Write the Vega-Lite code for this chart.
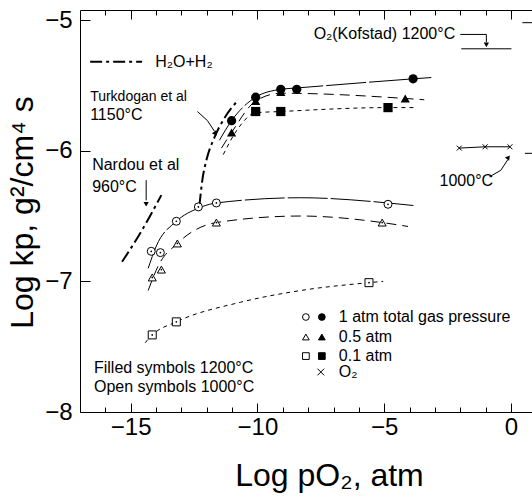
{
  "$schema": "https://vega.github.io/schema/vega-lite/v6.json",
  "width": 452,
  "height": 402,
  "autosize": "none",
  "padding": {"left": 80, "top": 10, "right": 0, "bottom": 89},
  "background": "white",
  "config": {
    "view": {"stroke": null},
    "font": "Liberation Sans",
    "axis": {"grid": false, "domainColor": "black", "tickColor": "black", "labelColor": "black", "titleColor": "black", "labelFont": "Liberation Sans", "titleFont": "Liberation Sans", "titleFontWeight": "normal", "domainWidth": 1, "tickWidth": 1}
  },
  "datasets": {
    "curves": [
      {"curve": "c1200_1", "i": 0, "x": -11.50, "y": -5.92},
      {"curve": "c1200_1", "i": 1, "x": -11.02, "y": -5.77},
      {"curve": "c1200_1", "i": 2, "x": -10.07, "y": -5.59},
      {"curve": "c1200_1", "i": 3, "x": -9.08, "y": -5.53},
      {"curve": "c1200_1", "i": 4, "x": -8.45, "y": -5.52},
      {"curve": "c1200_1", "i": 5, "x": -3.86, "y": -5.45},
      {"curve": "c1200_1", "i": 6, "x": -3.14, "y": -5.44},
      {"curve": "c1200_05", "i": 0, "x": -11.42, "y": -5.98},
      {"curve": "c1200_05", "i": 1, "x": -11.02, "y": -5.86},
      {"curve": "c1200_05", "i": 2, "x": -10.07, "y": -5.62},
      {"curve": "c1200_05", "i": 3, "x": -9.08, "y": -5.56},
      {"curve": "c1200_05", "i": 4, "x": -4.17, "y": -5.60},
      {"curve": "c1200_05", "i": 5, "x": -3.42, "y": -5.61},
      {"curve": "c1200_01", "i": 0, "x": -11.35, "y": -6.03},
      {"curve": "c1200_01", "i": 1, "x": -10.80, "y": -5.84},
      {"curve": "c1200_01", "i": 2, "x": -10.07, "y": -5.71},
      {"curve": "c1200_01", "i": 3, "x": -9.08, "y": -5.70},
      {"curve": "c1200_01", "i": 4, "x": -4.85, "y": -5.67},
      {"curve": "c1200_01", "i": 5, "x": -3.82, "y": -5.67},
      {"curve": "c1000_1", "i": 0, "x": -14.31, "y": -6.90},
      {"curve": "c1000_1", "i": 1, "x": -13.99, "y": -6.73},
      {"curve": "c1000_1", "i": 2, "x": -13.20, "y": -6.54},
      {"curve": "c1000_1", "i": 3, "x": -12.33, "y": -6.44},
      {"curve": "c1000_1", "i": 4, "x": -11.62, "y": -6.40},
      {"curve": "c1000_1", "i": 5, "x": -8.29, "y": -6.36},
      {"curve": "c1000_1", "i": 6, "x": -4.85, "y": -6.40},
      {"curve": "c1000_1", "i": 7, "x": -3.82, "y": -6.42},
      {"curve": "c1000_05", "i": 0, "x": -14.31, "y": -7.07},
      {"curve": "c1000_05", "i": 1, "x": -13.91, "y": -6.88},
      {"curve": "c1000_05", "i": 2, "x": -13.16, "y": -6.71},
      {"curve": "c1000_05", "i": 3, "x": -11.62, "y": -6.55},
      {"curve": "c1000_05", "i": 4, "x": -8.29, "y": -6.50},
      {"curve": "c1000_05", "i": 5, "x": -5.08, "y": -6.55},
      {"curve": "c1000_05", "i": 6, "x": -4.06, "y": -6.58},
      {"curve": "c1000_01", "i": 0, "x": -14.43, "y": -7.47},
      {"curve": "c1000_01", "i": 1, "x": -14.15, "y": -7.41},
      {"curve": "c1000_01", "i": 2, "x": -13.20, "y": -7.31},
      {"curve": "c1000_01", "i": 3, "x": -10.67, "y": -7.16},
      {"curve": "c1000_01", "i": 4, "x": -8.29, "y": -7.07},
      {"curve": "c1000_01", "i": 5, "x": -5.60, "y": -7.01},
      {"curve": "c1000_01", "i": 6, "x": -5.04, "y": -7.00}
    ],
    "dashdot": [
      {"line": "Nardou", "i": 0, "x": -15.34, "y": -6.85},
      {"line": "Nardou", "i": 1, "x": -14.62, "y": -6.63},
      {"line": "Nardou", "i": 2, "x": -13.79, "y": -6.34},
      {"line": "Turkdogan", "i": 0, "x": -12.29, "y": -6.42},
      {"line": "Turkdogan", "i": 1, "x": -12.17, "y": -6.22},
      {"line": "Turkdogan", "i": 2, "x": -12.01, "y": -6.07},
      {"line": "Turkdogan", "i": 3, "x": -11.70, "y": -5.90},
      {"line": "Turkdogan", "i": 4, "x": -11.30, "y": -5.75},
      {"line": "Turkdogan", "i": 5, "x": -10.75, "y": -5.61},
      {"line": "H2O key", "i": 0, "x": -16.60, "y": -5.32},
      {"line": "H2O key", "i": 1, "x": -14.55, "y": -5.32}
    ],
    "solid": [
      {"line": "O2 1000", "i": 0, "x": -2.04, "y": -5.98},
      {"line": "O2 1000", "i": 1, "x": -1.02, "y": -5.97},
      {"line": "O2 1000", "i": 2, "x": -0.04, "y": -5.97},
      {"line": "O2 tail", "i": 0, "x": 0.55, "y": -6.02},
      {"line": "O2 tail", "i": 1, "x": 0.83, "y": -6.02},
      {"line": "Kofstad", "i": 0, "x": -1.96, "y": -5.22},
      {"line": "Kofstad", "i": 1, "x": 0.02, "y": -5.22},
      {"line": "Kofstad tail", "i": 0, "x": 0.45, "y": -5.02},
      {"line": "Kofstad tail", "i": 1, "x": 0.83, "y": -5.02},
      {"line": "arrow Kofstad", "i": 0, "x": -2.0, "y": -5.11},
      {"line": "arrow Kofstad", "i": 1, "x": -0.97, "y": -5.11},
      {"line": "arrow Kofstad", "i": 2, "x": -0.97, "y": -5.17},
      {"line": "arrow Nardou", "i": 0, "x": -14.39, "y": -6.225},
      {"line": "arrow Nardou", "i": 1, "x": -14.39, "y": -6.38},
      {"line": "arrow Turkdogan", "i": 0, "x": -12.37, "y": -5.70},
      {"line": "arrow Turkdogan", "i": 1, "x": -11.97, "y": -5.77},
      {"line": "arrow Turkdogan", "i": 2, "x": -11.70, "y": -5.85},
      {"line": "arrow 1000", "i": 0, "x": -0.85, "y": -6.20},
      {"line": "arrow 1000", "i": 1, "x": -0.40, "y": -6.15},
      {"line": "arrow 1000", "i": 2, "x": -0.13, "y": -6.07}
    ],
    "heads": [
      {"arrow": "Kofstad", "x": -0.97, "y": -5.19, "heading": 180},
      {"arrow": "Nardou", "x": -14.39, "y": -6.41, "heading": 180},
      {"arrow": "Turkdogan", "x": -11.66, "y": -5.87, "heading": 141},
      {"arrow": "1000", "x": -0.10, "y": -6.05, "heading": 38}
    ],
    "markers": [
      {"temp": "1200", "gas": "1 atm", "x": -11.02, "y": -5.77},
      {"temp": "1200", "gas": "1 atm", "x": -10.07, "y": -5.59},
      {"temp": "1200", "gas": "1 atm", "x": -9.08, "y": -5.53},
      {"temp": "1200", "gas": "1 atm", "x": -8.45, "y": -5.53},
      {"temp": "1200", "gas": "1 atm", "x": -3.86, "y": -5.45},
      {"temp": "1200", "gas": "0.5 atm", "x": -11.02, "y": -5.86},
      {"temp": "1200", "gas": "0.5 atm", "x": -10.07, "y": -5.62},
      {"temp": "1200", "gas": "0.5 atm", "x": -9.08, "y": -5.55},
      {"temp": "1200", "gas": "0.5 atm", "x": -4.17, "y": -5.60},
      {"temp": "1200", "gas": "0.1 atm", "x": -10.07, "y": -5.70},
      {"temp": "1200", "gas": "0.1 atm", "x": -9.08, "y": -5.70},
      {"temp": "1200", "gas": "0.1 atm", "x": -4.85, "y": -5.67},
      {"temp": "1000", "gas": "1 atm", "x": -14.19, "y": -6.77},
      {"temp": "1000", "gas": "1 atm", "x": -13.83, "y": -6.78},
      {"temp": "1000", "gas": "1 atm", "x": -13.20, "y": -6.54},
      {"temp": "1000", "gas": "1 atm", "x": -12.33, "y": -6.43},
      {"temp": "1000", "gas": "1 atm", "x": -11.62, "y": -6.40},
      {"temp": "1000", "gas": "1 atm", "x": -4.85, "y": -6.41},
      {"temp": "1000", "gas": "0.5 atm", "x": -14.15, "y": -6.97},
      {"temp": "1000", "gas": "0.5 atm", "x": -13.79, "y": -6.91},
      {"temp": "1000", "gas": "0.5 atm", "x": -13.16, "y": -6.71},
      {"temp": "1000", "gas": "0.5 atm", "x": -11.62, "y": -6.55},
      {"temp": "1000", "gas": "0.5 atm", "x": -5.08, "y": -6.55},
      {"temp": "1000", "gas": "0.1 atm", "x": -14.15, "y": -7.41},
      {"temp": "1000", "gas": "0.1 atm", "x": -13.20, "y": -7.31},
      {"temp": "1000", "gas": "0.1 atm", "x": -5.60, "y": -7.01},
      {"temp": "1000", "gas": "O2", "x": -2.04, "y": -5.98},
      {"temp": "1000", "gas": "O2", "x": -1.02, "y": -5.97},
      {"temp": "1000", "gas": "O2", "x": -0.04, "y": -5.97}
    ],
    "key": [
      {"temp": "1000", "gas": "1 atm", "x": -8.09, "y": -7.273},
      {"temp": "1200", "gas": "1 atm", "x": -7.46, "y": -7.273},
      {"temp": "1000", "gas": "0.5 atm", "x": -8.09, "y": -7.426},
      {"temp": "1200", "gas": "0.5 atm", "x": -7.46, "y": -7.426},
      {"temp": "1000", "gas": "0.1 atm", "x": -8.09, "y": -7.572},
      {"temp": "1200", "gas": "0.1 atm", "x": -7.46, "y": -7.572},
      {"temp": "1000", "gas": "O2", "x": -7.50, "y": -7.694}
    ],
    "textLeft": [
      {"label": "H₂O+H₂", "x": -14.03, "y": -5.32},
      {"label": "1150°C", "x": -16.60, "y": -5.73},
      {"label": "Nardou et al", "x": -16.52, "y": -6.11},
      {"label": "960°C", "x": -16.52, "y": -6.28},
      {"label": "1 atm total gas pressure", "x": -6.79, "y": -7.273},
      {"label": "0.5 atm", "x": -6.79, "y": -7.426},
      {"label": "0.1 atm", "x": -6.79, "y": -7.572},
      {"label": "O₂", "x": -6.79, "y": -7.694},
      {"label": "Filled symbols 1200°C", "x": -16.45, "y": -7.66},
      {"label": "Open symbols 1000°C", "x": -16.45, "y": -7.81}
    ],
    "textSmall": [
      {"label": "Turkdogan et al", "x": -16.60, "y": -5.59}
    ],
    "textRight": [
      {"label": "O₂(Kofstad)  1200°C", "x": -2.2, "y": -5.11}
    ],
    "textCenter": [
      {"label": "1000°C", "x": -1.76, "y": -6.23}
    ]
  },
  "layer": [
    {
      "data": {"name": "curves"},
      "mark": {"type": "line", "interpolate": "monotone", "stroke": "black", "strokeWidth": 1},
      "encoding": {
        "x": {"field": "x", "type": "quantitative", "scale": {"domain": [-17.0, 0.83], "nice": false, "zero": false},
          "axis": {"orient": "bottom", "values": [-15, -10, -5, 0], "tickSize": -9, "labelPadding": 12, "labelFontSize": 24, "labelFlush": false, "title": "Log pO₂, atm", "titleFontSize": 32, "titleX": 249, "titleY": 73, "titleBaseline": "alphabetic", "titleAlign": "center"}},
        "y": {"field": "y", "type": "quantitative", "scale": {"domain": [-8, -4.923], "nice": false, "zero": false},
          "axis": {"orient": "left", "values": [-8, -7, -6, -5], "tickSize": -10, "labelPadding": 18, "labelFontSize": 24, "labelFlush": false, "title": "Log kp, g²/cm⁴ s", "titleFontSize": 32, "titleX": -48, "titleY": 202, "titleAngle": -90, "titleBaseline": "alphabetic", "titleAlign": "center"}},
        "detail": {"field": "curve"},
        "order": {"field": "i", "type": "quantitative"},
        "strokeDash": {"field": "curve", "type": "nominal", "legend": null,
          "scale": {"domain": ["c1200_1", "c1200_05", "c1200_01", "c1000_1", "c1000_05", "c1000_01"],
                    "range": [[40, 3], [10, 6], [4, 4], [40, 3], [10, 6], [4, 4]]}}
      }
    },
    {
      "data": {"name": "dashdot"},
      "mark": {"type": "line", "interpolate": "monotone", "stroke": "black", "strokeWidth": 2, "strokeDash": [12, 4, 3, 4]},
      "encoding": {
        "x": {"field": "x", "type": "quantitative", "scale": {"domain": [-17.0, 0.83], "nice": false, "zero": false},
          "axis": {"orient": "bottom", "values": [-16, -14, -13, -12, -11, -9, -8, -7, -6, -4, -3, -2, -1], "tickSize": -5, "labels": false, "domain": false, "title": null}},
        "y": {"field": "y", "type": "quantitative", "scale": {"domain": [-8, -4.923], "nice": false, "zero": false}, "axis": null},
        "detail": {"field": "line"},
        "order": {"field": "i", "type": "quantitative"}
      }
    },
    {
      "data": {"name": "solid"},
      "mark": {"type": "line", "stroke": "black", "strokeWidth": 1},
      "encoding": {
        "x": {"field": "x", "type": "quantitative", "scale": {"domain": [-17.0, 0.83], "nice": false, "zero": false},
          "axis": {"orient": "top", "values": [-16, -14, -13, -12, -11, -9, -8, -7, -6, -4, -3, -2, -1], "tickSize": -5, "labels": false, "domain": true, "title": null}},
        "y": {"field": "y", "type": "quantitative", "scale": {"domain": [-8, -4.923], "nice": false, "zero": false}, "axis": null},
        "detail": {"field": "line"},
        "order": {"field": "i", "type": "quantitative"}
      }
    },
    {
      "data": {"name": "heads"},
      "mark": {"type": "point", "shape": "triangle-up", "filled": true, "color": "black", "size": 28, "opacity": 1},
      "encoding": {
        "x": {"field": "x", "type": "quantitative", "scale": {"domain": [-17.0, 0.83], "nice": false, "zero": false},
          "axis": {"orient": "top", "values": [-15, -10, -5, 0], "tickSize": -9, "labels": false, "domain": false, "title": null}},
        "y": {"field": "y", "type": "quantitative", "scale": {"domain": [-8, -4.923], "nice": false, "zero": false}, "axis": null},
        "angle": {"field": "heading", "type": "quantitative", "scale": null}
      }
    },
    {
      "data": {"name": "markers"},
      "transform": [{"filter": "datum.temp === '1200'"}],
      "mark": {"type": "point", "filled": true, "color": "black", "size": 85, "opacity": 1},
      "encoding": {
        "x": {"field": "x", "type": "quantitative", "scale": {"domain": [-17.0, 0.83], "nice": false, "zero": false}, "axis": null},
        "y": {"field": "y", "type": "quantitative", "scale": {"domain": [-8, -4.923], "nice": false, "zero": false}, "axis": null},
        "shape": {"field": "gas", "type": "nominal", "legend": null,
          "scale": {"domain": ["1 atm", "0.5 atm", "0.1 atm", "O2"], "range": ["circle", "triangle-up", "square", "M-1,-1L1,1M1,-1L-1,1"]}}
      }
    },
    {
      "data": {"name": "markers"},
      "transform": [{"filter": "datum.temp === '1000' && datum.gas !== 'O2'"}],
      "mark": {"type": "point", "filled": false, "fill": "white", "stroke": "black", "strokeWidth": 1, "size": 64, "opacity": 1, "fillOpacity": 1},
      "encoding": {
        "x": {"field": "x", "type": "quantitative", "scale": {"domain": [-17.0, 0.83], "nice": false, "zero": false}, "axis": null},
        "y": {"field": "y", "type": "quantitative", "scale": {"domain": [-8, -4.923], "nice": false, "zero": false}, "axis": null},
        "shape": {"field": "gas", "type": "nominal", "legend": null,
          "scale": {"domain": ["1 atm", "0.5 atm", "0.1 atm", "O2"], "range": ["circle", "triangle-up", "square", "M-1,-1L1,1M1,-1L-1,1"]}}
      }
    },
    {
      "data": {"name": "markers"},
      "transform": [{"filter": "datum.temp === '1000' && datum.gas !== 'O2'"}],
      "mark": {"type": "circle", "color": "black", "size": 3, "opacity": 1},
      "encoding": {
        "x": {"field": "x", "type": "quantitative", "scale": {"domain": [-17.0, 0.83], "nice": false, "zero": false}, "axis": null},
        "y": {"field": "y", "type": "quantitative", "scale": {"domain": [-8, -4.923], "nice": false, "zero": false}, "axis": null}
      }
    },
    {
      "data": {"name": "markers"},
      "transform": [{"filter": "datum.gas === 'O2'"}],
      "mark": {"type": "point", "filled": false, "stroke": "black", "strokeWidth": 1, "size": 25, "opacity": 1},
      "encoding": {
        "x": {"field": "x", "type": "quantitative", "scale": {"domain": [-17.0, 0.83], "nice": false, "zero": false}, "axis": null},
        "y": {"field": "y", "type": "quantitative", "scale": {"domain": [-8, -4.923], "nice": false, "zero": false}, "axis": null},
        "shape": {"field": "gas", "type": "nominal", "legend": null,
          "scale": {"domain": ["1 atm", "0.5 atm", "0.1 atm", "O2"], "range": ["circle", "triangle-up", "square", "M-1,-1L1,1M1,-1L-1,1"]}}
      }
    },
    {
      "data": {"name": "key"},
      "mark": {"type": "point", "stroke": "black", "strokeWidth": 1, "size": 45, "opacity": 1, "fillOpacity": 1},
      "encoding": {
        "x": {"field": "x", "type": "quantitative", "scale": {"domain": [-17.0, 0.83], "nice": false, "zero": false}, "axis": null},
        "y": {"field": "y", "type": "quantitative", "scale": {"domain": [-8, -4.923], "nice": false, "zero": false}, "axis": null},
        "shape": {"field": "gas", "type": "nominal", "legend": null,
          "scale": {"domain": ["1 atm", "0.5 atm", "0.1 atm", "O2"], "range": ["circle", "triangle-up", "square", "M-1,-1L1,1M1,-1L-1,1"]}},
        "fill": {"field": "temp", "type": "nominal", "legend": null,
          "scale": {"domain": ["1200", "1000"], "range": ["black", "white"]}}
      }
    },
    {
      "data": {"name": "textLeft"},
      "mark": {"type": "text", "align": "left", "baseline": "middle", "fontSize": 16, "font": "Liberation Sans", "color": "black"},
      "encoding": {
        "x": {"field": "x", "type": "quantitative", "scale": {"domain": [-17.0, 0.83], "nice": false, "zero": false}, "axis": null},
        "y": {"field": "y", "type": "quantitative", "scale": {"domain": [-8, -4.923], "nice": false, "zero": false}, "axis": null},
        "text": {"field": "label"}
      }
    },
    {
      "data": {"name": "textSmall"},
      "mark": {"type": "text", "align": "left", "baseline": "middle", "fontSize": 14, "font": "Liberation Sans", "color": "black"},
      "encoding": {
        "x": {"field": "x", "type": "quantitative", "scale": {"domain": [-17.0, 0.83], "nice": false, "zero": false}, "axis": null},
        "y": {"field": "y", "type": "quantitative", "scale": {"domain": [-8, -4.923], "nice": false, "zero": false}, "axis": null},
        "text": {"field": "label"}
      }
    },
    {
      "data": {"name": "textRight"},
      "mark": {"type": "text", "align": "right", "baseline": "middle", "fontSize": 16, "font": "Liberation Sans", "color": "black"},
      "encoding": {
        "x": {"field": "x", "type": "quantitative", "scale": {"domain": [-17.0, 0.83], "nice": false, "zero": false}, "axis": null},
        "y": {"field": "y", "type": "quantitative", "scale": {"domain": [-8, -4.923], "nice": false, "zero": false}, "axis": null},
        "text": {"field": "label"}
      }
    },
    {
      "data": {"name": "textCenter"},
      "mark": {"type": "text", "align": "center", "baseline": "middle", "fontSize": 16, "font": "Liberation Sans", "color": "black"},
      "encoding": {
        "x": {"field": "x", "type": "quantitative", "scale": {"domain": [-17.0, 0.83], "nice": false, "zero": false}, "axis": null},
        "y": {"field": "y", "type": "quantitative", "scale": {"domain": [-8, -4.923], "nice": false, "zero": false}, "axis": null},
        "text": {"field": "label"}
      }
    }
  ],
  "resolve": {"axis": {"x": "independent", "y": "independent"}}
}
